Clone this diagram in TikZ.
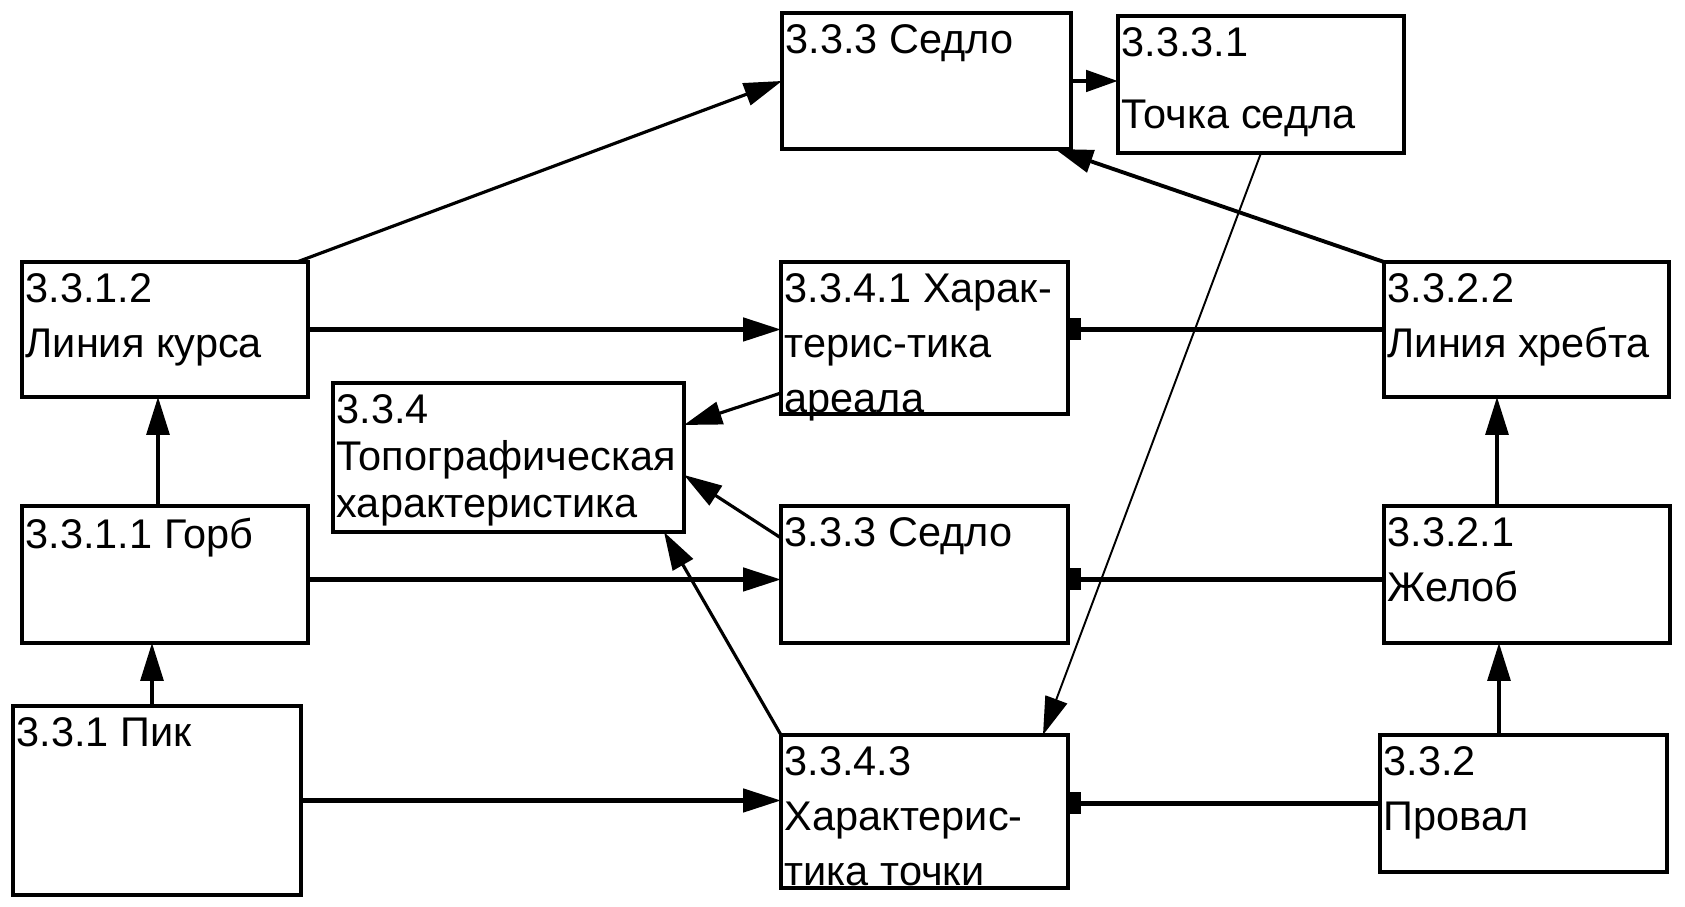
\documentclass[tikz,border=0pt]{standalone}
\usepackage{fontspec}
\setmainfont{Liberation Sans}
\usepackage{tikz}
\usetikzlibrary{arrows.meta,calc}

\begin{document}
\begin{tikzpicture}[
    >={Triangle[length=3.8mm,width=2.3mm]},
    box/.style={draw, line width=0.9pt, inner sep=0pt, outer sep=0pt, anchor=north west},
    txt/.style={anchor=north west, inner sep=0pt, align=left, font=\fontsize{11.8}{13.4}\selectfont},
    link/.style={->, line width=0.9pt},
    thick link/.style={->, line width=1.4pt},
    stub/.style={-{Rectangle[length=1.3mm,width=2.2mm]}, line width=1.4pt},
  ]
  \useasboundingbox (0,0) rectangle (16.85,9.07);

  % boxes
  \node[box, minimum width=2.89cm, minimum height=1.36cm] (saddleTop) at (7.82,8.94) {};
  \node[box, minimum width=2.86cm, minimum height=1.37cm] (saddlePt) at (11.18,8.91) {};
  \node[box, minimum width=2.86cm, minimum height=1.35cm] (courseLine) at (0.22,6.45) {};
  \node[box, minimum width=2.87cm, minimum height=1.52cm] (areaChar) at (7.81,6.45) {};
  \node[box, minimum width=2.85cm, minimum height=1.35cm] (ridgeLine) at (13.84,6.45) {};
  \node[box, minimum width=3.51cm, minimum height=1.49cm] (topoChar) at (3.33,5.24) {};
  \node[box, minimum width=2.86cm, minimum height=1.37cm] (hump) at (0.22,4.01) {};
  \node[box, minimum width=2.87cm, minimum height=1.37cm] (saddleMid) at (7.81,4.01) {};
  \node[box, minimum width=2.86cm, minimum height=1.37cm] (gutter) at (13.84,4.01) {};
  \node[box, minimum width=2.88cm, minimum height=1.89cm] (peak) at (0.13,2.01) {};
  \node[box, minimum width=2.87cm, minimum height=1.53cm] (pointChar) at (7.81,1.72) {};
  \node[box, minimum width=2.87cm, minimum height=1.37cm] (pit) at (13.80,1.72) {};

  % texts, set at the top left corner of each box
  \node[txt] (saddleTop-t) at ([shift={(0.03,-0.11)}]saddleTop.north west) {3.3.3 Седло};
  \node[txt] (saddlePt-t) at ([shift={(0.03,-0.11)}]saddlePt.north west) {3.3.3.1\\[7pt]Точка седла};
  \node[txt] (courseLine-t) at ([shift={(0.03,-0.11)}]courseLine.north west) {3.3.1.2\\[2.2pt]Линия курса};
  \node[txt] (areaChar-t) at ([shift={(0.03,-0.11)}]areaChar.north west) {3.3.4.1 Харак-\\[2.2pt]терис-тика\\[2.2pt]ареала};
  \node[txt] (ridgeLine-t) at ([shift={(0.03,-0.11)}]ridgeLine.north west) {3.3.2.2\\[2.2pt]Линия хребта};
  \node[txt] (topoChar-t) at ([shift={(0.03,-0.11)}]topoChar.north west) {3.3.4\\Топографическая\\характеристика};
  \node[txt] (hump-t) at ([shift={(0.03,-0.11)}]hump.north west) {3.3.1.1 Горб};
  \node[txt] (saddleMid-t) at ([shift={(0.03,-0.11)}]saddleMid.north west) {3.3.3 Седло};
  \node[txt] (gutter-t) at ([shift={(0.03,-0.11)}]gutter.north west) {3.3.2.1\\[2.2pt]Желоб};
  \node[txt] (peak-t) at ([shift={(0.03,-0.11)}]peak.north west) {3.3.1 Пик};
  \node[txt] (pointChar-t) at ([shift={(0.03,-0.11)}]pointChar.north west) {3.3.4.3\\[2.2pt]Характерис-\\[2.2pt]тика точки};
  \node[txt] (pit-t) at ([shift={(0.03,-0.11)}]pit.north west) {3.3.2\\[2.2pt]Провал};

  % left column
  \draw[link] ([xshift=-0.5mm]peak.north) -- ([xshift=-0.5mm]peak.north |- hump.south);
  \draw[link] ([xshift=-0.7mm]hump.north) -- ([xshift=-0.7mm]hump.north |- courseLine.south);
  \draw[link] ([xshift=-1.1mm]courseLine.north east) -- (saddleTop.west);
  \draw[thick link] (courseLine.east) -- (courseLine.east -| areaChar.west);
  \draw[thick link] ([yshift=-0.5mm]hump.east) -- ([yshift=-0.5mm]saddleMid.west);
  \draw[thick link] (peak.east) -- (peak.east -| pointChar.west);

  % right column
  \draw[link] ([xshift=-2.45mm]pit.north) -- ([xshift=-2.45mm]pit.north |- gutter.south);
  \draw[link] ([xshift=-3mm]gutter.north) -- ([xshift=-3mm]gutter.north |- ridgeLine.south);
  \draw[link, line width=1.1pt] (ridgeLine.north west) -- ([xshift=-1.6mm]saddleTop.south east);
  \draw[stub] (ridgeLine.west) -- (ridgeLine.west -| areaChar.east);
  \draw[stub] ([yshift=-0.5mm]gutter.west) -- ([yshift=-0.5mm]saddleMid.east);
  \draw[stub] (pit.west) -- (pit.west -| pointChar.east);

  % middle
  \draw[-{Triangle[length=3.2mm,width=2.1mm]}, line width=1.4pt] (saddleTop.east) -- (saddleTop.east -| saddlePt.west);
  \draw[link, line width=0.55pt] (saddlePt.south) -- ([xshift=-2.5mm]pointChar.north east);
  \draw[link] ([yshift=2.1mm]areaChar.south west) -- ([yshift=-4.2mm]topoChar.north east);
  \draw[link] ([yshift=-3.2mm]saddleMid.north west) -- ([yshift=5.7mm]topoChar.south east);
  \draw[link] (pointChar.north west) -- ([xshift=-2mm]topoChar.south east);
\end{tikzpicture}
\end{document}
